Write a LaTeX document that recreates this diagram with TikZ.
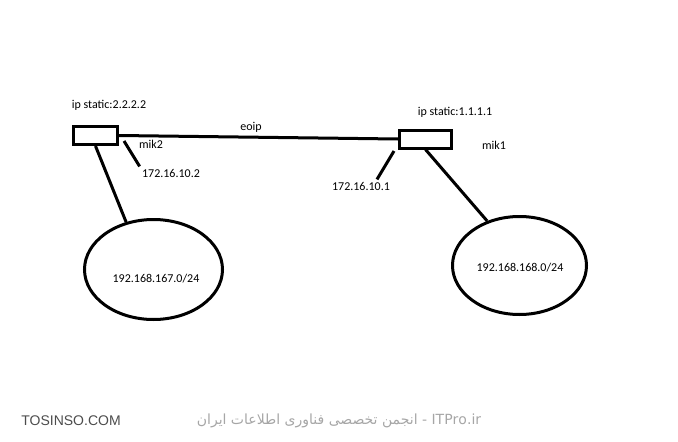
\documentclass[tikz,border=0pt]{standalone}
\usepackage{fontspec}
\setmainfont{Carlito}
\newfontfamily\markfont{Liberation Sans}
\newfontfamily\arabicfont[Script=Arabic]{DejaVu Sans}
\TeXXeTstate=1
\usetikzlibrary{shapes.geometric,positioning,calc}

\begin{document}
\begin{tikzpicture}[x=1pt, y=-1pt, line width=3pt,
    routerbox/.style={rectangle, draw, line width=3pt, inner sep=0pt},
    subnet/.style={ellipse, draw, line width=3pt, inner sep=0pt},
    lbl/.style={font=\fontsize{12}{14}\selectfont, inner sep=1pt}]
        \useasboundingbox (0,0) rectangle (678,442);

        \node[routerbox, minimum width=44, minimum height=18] (mik2) at (95.5,135.5) {};
        \node[routerbox, minimum width=52, minimum height=18] (mik1) at (425.5,139) {};
        \node[subnet, minimum width=138, minimum height=100] (net2) at (153.5,269.5) {};
        \node[subnet, minimum width=134, minimum height=98] (net1) at (519.5,265.5) {};

        \node[lbl] (ip2) at (109,105) {ip static:2.2.2.2};
        \node[lbl] (name2) at (151,144) {mik2};
        \node[lbl] (tun) at (251,127) {eoip};
        \node[lbl] (ip1) at (455,112) {ip static:1.1.1.1};
        \node[lbl] (name1) at (494,145) {mik1};
        \node[lbl] (addr2) at (171,173) {172.16.10.2};
        \node[lbl] (addr1) at (361,186) {172.16.10.1};
        \node[lbl] (net2lbl) at (156,279) {192.168.167.0/24};
        \node[lbl] (net1lbl) at (520,268) {192.168.168.0/24};

        \draw (mik2.east) -- (mik1.west);
        \draw (mik2.south) -- (net2.120);
        \draw (mik1.south) -- (net1.126);

        % interface leads, they stop short of the boxes
        \coordinate (lead2) at (124,141);
        \coordinate (lead1) at (394,151);
        \draw (lead2) -- (addr2.north west);
        \draw (lead1) -- ([xshift=16]addr1.north);

        \node[font=\markfont\fontsize{14}{16}\selectfont, text=black!70] (site) at (71,421) {TOSINSO.COM};
        \node[font=\arabicfont\fontsize{14}{16}\selectfont, text=black!35] (forum) at (339,421)
            {\beginR\beginL ITPro.ir\endL{} - انجمن تخصصی فناوری اطلاعات ایران\endR};
      \end{tikzpicture}
\end{document}
